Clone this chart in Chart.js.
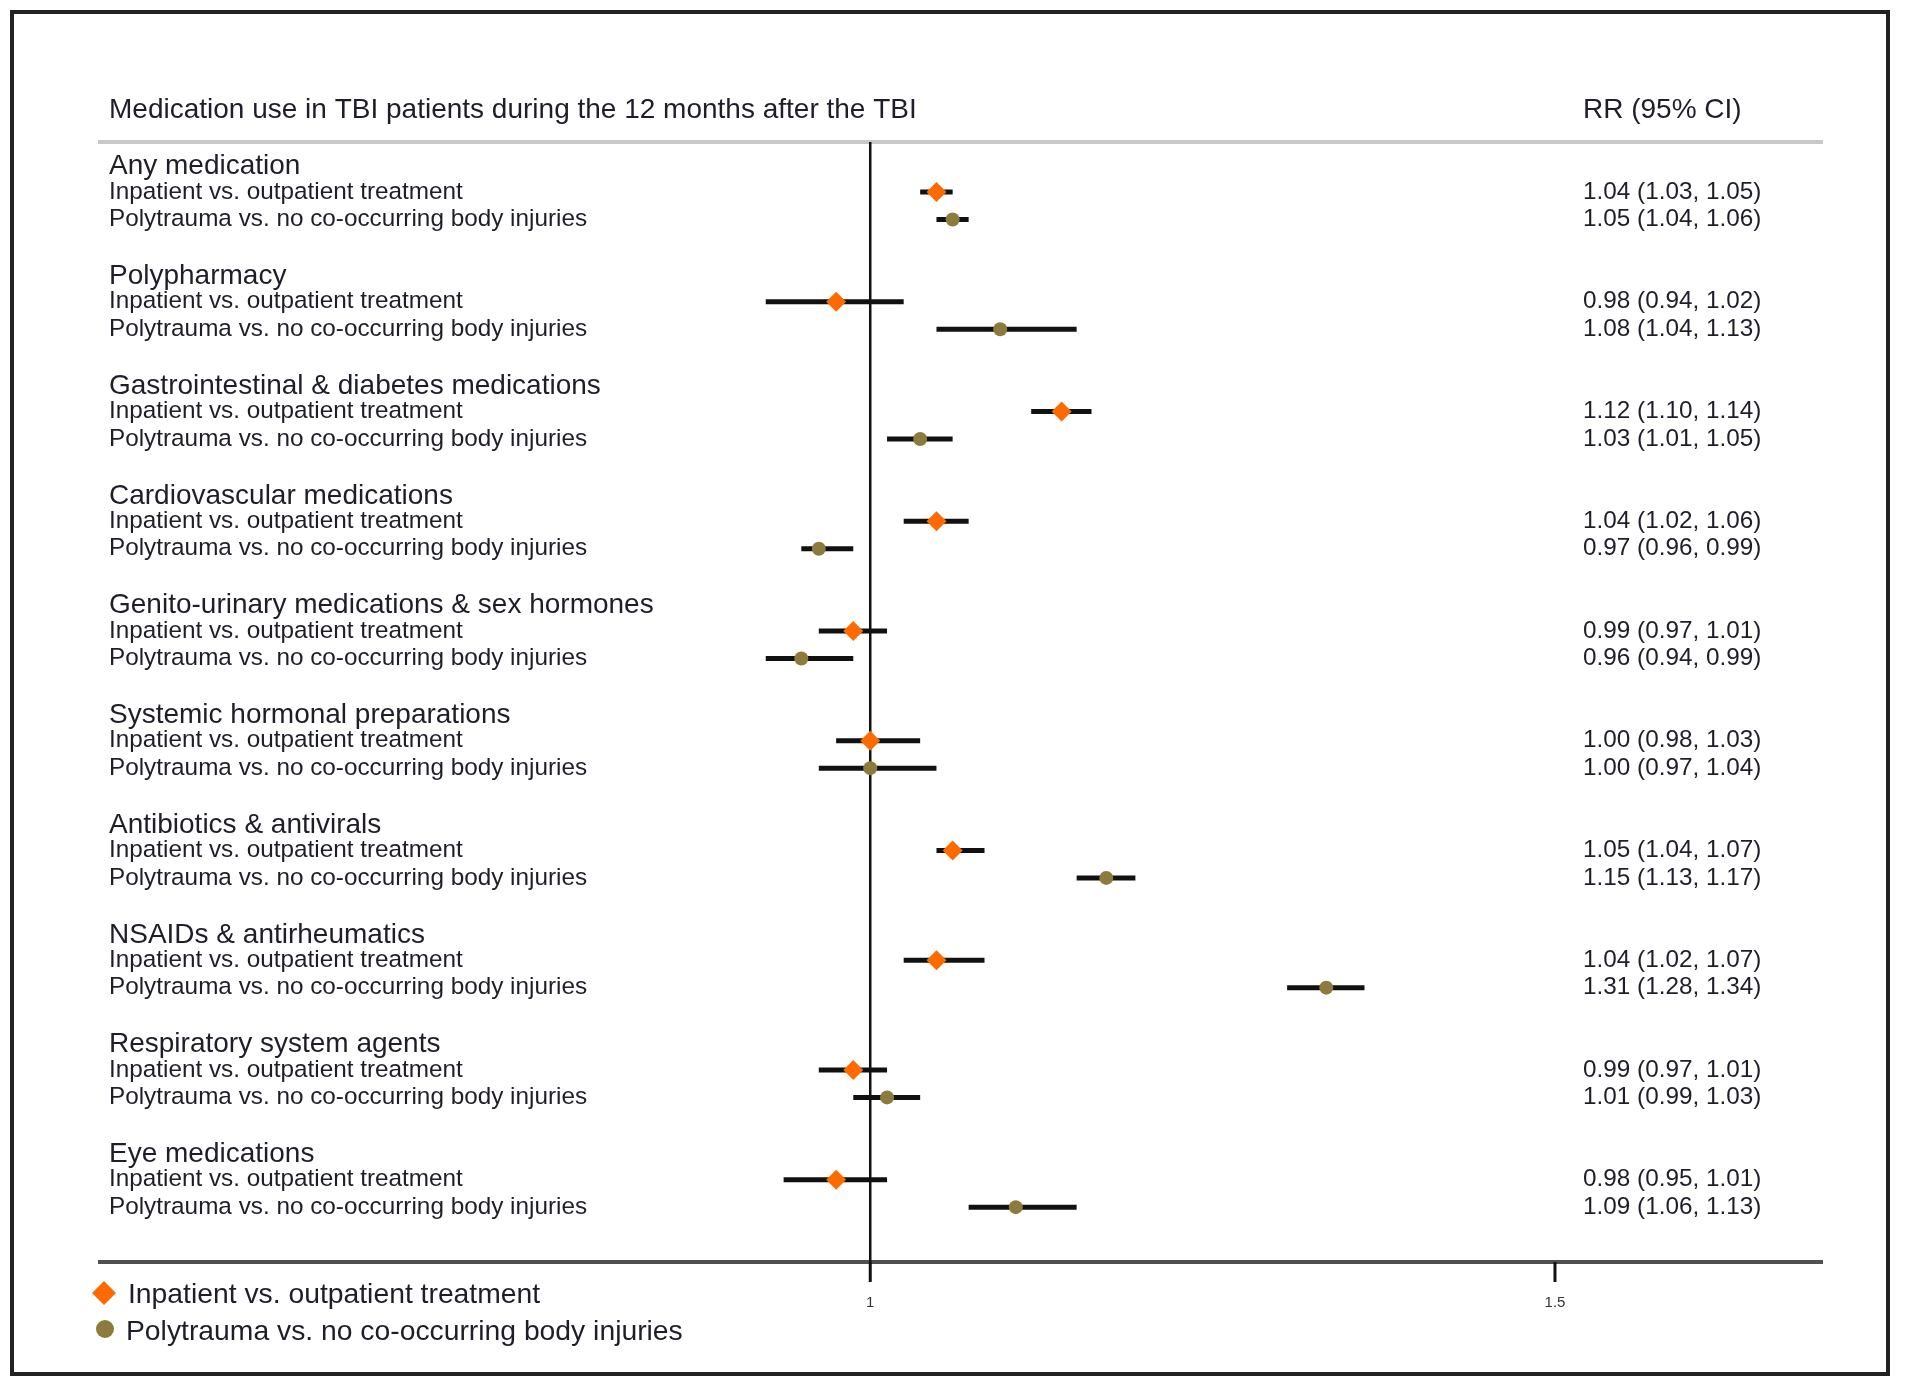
<!DOCTYPE html>
<html lang="en">
<head>
    <meta charset="UTF-8">
    <title>Medication use in TBI patients</title>
    <script src="https://cdn.jsdelivr.net/npm/chart.js"></script>
    <style>
        html, body { margin: 0; padding: 0; background: #fff; }
        canvas { display: block; }
    </style>
</head>
<body>
    <canvas id="forest" width="1908" height="1384"></canvas>
    <script>
        // medication groups, top to bottom
        const groups = [
            'Any medication',
            'Polypharmacy',
            'Gastrointestinal & diabetes medications',
            'Cardiovascular medications',
            'Genito-urinary medications & sex hormones',
            'Systemic hormonal preparations',
            'Antibiotics & antivirals',
            'NSAIDs & antirheumatics',
            'Respiratory system agents',
            'Eye medications'
        ];
        const comparisons = ['Inpatient vs. outpatient treatment', 'Polytrauma vs. no co-occurring body injuries'];

        // inpatient vs. outpatient
        const inpRR = [1.04, 0.98, 1.12, 1.04, 0.99, 1.00, 1.05, 1.04, 0.99, 0.98];
        const inpLo = [1.03, 0.94, 1.10, 1.02, 0.97, 0.98, 1.04, 1.02, 0.97, 0.95];
        const inpHi = [1.05, 1.02, 1.14, 1.06, 1.01, 1.03, 1.07, 1.07, 1.01, 1.01];

        // polytrauma vs. no co-occurring body injuries
        const polyRR = [1.05, 1.08, 1.03, 0.97, 0.96, 1.00, 1.15, 1.31, 1.01, 1.09];
        const polyLo = [1.04, 1.04, 1.01, 0.96, 0.94, 0.97, 1.13, 1.28, 0.99, 1.06];
        const polyHi = [1.06, 1.13, 1.05, 0.99, 0.99, 1.04, 1.17, 1.34, 1.03, 1.13];

        const xTicks = [1, 1.5];

        const ORANGE = '#ff6a00';
        const OLIVE = '#8c7b3c';
        const TEXT = '#1e1e28';
        const FONT = '"Liberation Sans", Arial, sans-serif';

        // each group uses 4 rows: heading, inpatient, polytrauma, gap
        const inpSlot = i => i * 4 + 1;
        const polySlot = i => i * 4 + 2;
        const fmt = (rr, lo, hi) => `${rr.toFixed(2)} (${lo.toFixed(2)}, ${hi.toFixed(2)})`;

        const ciSets = [];
        groups.forEach((g, i) => {
            ciSets.push({
                type: 'line',
                data: [{ x: inpLo[i], y: inpSlot(i) }, { x: inpHi[i], y: inpSlot(i) }],
                borderColor: '#111', borderWidth: 5, pointRadius: 0, order: 2
            });
            ciSets.push({
                type: 'line',
                data: [{ x: polyLo[i], y: polySlot(i) }, { x: polyHi[i], y: polySlot(i) }],
                borderColor: '#111', borderWidth: 5, pointRadius: 0, order: 2
            });
        });

        const frame = {
            id: 'frame',
            beforeDatasetsDraw(chart) {
                const { ctx, chartArea: a, scales: { x } } = chart;
                ctx.save();
                // outer box
                ctx.strokeStyle = '#222';
                ctx.lineWidth = 4;
                ctx.strokeRect(12, 12, 1876, 1362);
                // header rule
                ctx.strokeStyle = '#c8c8c8';
                ctx.lineWidth = 4;
                ctx.beginPath();
                ctx.moveTo(a.left, a.top);
                ctx.lineTo(a.right, a.top);
                ctx.stroke();
                // axis line
                ctx.strokeStyle = '#505050';
                ctx.beginPath();
                ctx.moveTo(a.left, a.bottom);
                ctx.lineTo(a.right, a.bottom);
                ctx.stroke();
                // null line at RR = 1
                const x1 = x.getPixelForValue(1);
                ctx.strokeStyle = '#111';
                ctx.lineWidth = 2.5;
                ctx.beginPath();
                ctx.moveTo(x1, a.top);
                ctx.lineTo(x1, a.bottom);
                ctx.stroke();
                // ticks
                ctx.lineWidth = 3;
                ctx.fillStyle = '#333';
                ctx.font = `15px ${FONT}`;
                ctx.textAlign = 'center';
                ctx.textBaseline = 'middle';
                xTicks.forEach(t => {
                    const px = x.getPixelForValue(t);
                    ctx.beginPath();
                    ctx.moveTo(px, a.bottom);
                    ctx.lineTo(px, a.bottom + 20);
                    ctx.stroke();
                    ctx.fillText(String(t), px, a.bottom + 41);
                });
                ctx.restore();
            },
            afterDraw(chart) {
                const { ctx, scales: { y } } = chart;
                ctx.save();
                ctx.fillStyle = TEXT;
                ctx.textBaseline = 'middle';
                ctx.textAlign = 'left';
                ctx.font = `28px ${FONT}`;
                ctx.fillText('Medication use in TBI patients during the 12 months after the TBI', 109, 110);
                ctx.fillText('RR (95% CI)', 1583, 110);

                groups.forEach((g, i) => {
                    ctx.font = `28px ${FONT}`;
                    ctx.fillText(g, 109, y.getPixelForValue(i * 4) + 2);
                    ctx.font = `24.3px ${FONT}`;
                    ctx.fillText(comparisons[0], 109, y.getPixelForValue(inpSlot(i)));
                    ctx.fillText(comparisons[1], 109, y.getPixelForValue(polySlot(i)));
                    ctx.fillText(fmt(inpRR[i], inpLo[i], inpHi[i]), 1583, y.getPixelForValue(inpSlot(i)));
                    ctx.fillText(fmt(polyRR[i], polyLo[i], polyHi[i]), 1583, y.getPixelForValue(polySlot(i)));
                });

                // legend
                ctx.font = `28.3px ${FONT}`;
                ctx.fillText(comparisons[0], 128, 1295);
                ctx.fillText(comparisons[1], 126, 1332);
                ctx.fillStyle = ORANGE;
                ctx.beginPath();
                ctx.moveTo(104, 1281);
                ctx.lineTo(116, 1293);
                ctx.lineTo(104, 1305);
                ctx.lineTo(92, 1293);
                ctx.closePath();
                ctx.fill();
                ctx.fillStyle = OLIVE;
                ctx.beginPath();
                ctx.arc(105, 1329, 9, 0, Math.PI * 2);
                ctx.fill();
                ctx.restore();
            }
        };

        new Chart(document.getElementById('forest'), {
            type: 'scatter',
            data: {
                datasets: [
                    ...ciSets,
                    {
                        label: comparisons[0],
                        data: inpRR.map((v, i) => ({ x: v, y: inpSlot(i) })),
                        pointStyle: 'rectRot', pointRadius: 10,
                        backgroundColor: ORANGE, borderColor: ORANGE, borderWidth: 0, order: 1
                    },
                    {
                        label: comparisons[1],
                        data: polyRR.map((v, i) => ({ x: v, y: polySlot(i) })),
                        pointStyle: 'circle', pointRadius: 7,
                        backgroundColor: OLIVE, borderColor: OLIVE, borderWidth: 0, order: 1
                    }
                ]
            },
            options: {
                responsive: false,
                animation: false,
                devicePixelRatio: 1,
                layout: { padding: { left: 98, top: 142, right: 85, bottom: 122 } },
                scales: {
                    x: { type: 'logarithmic', bounds: 'data', min: 0.633, max: 1.758, display: false },
                    y: { type: 'linear', min: -0.824, max: 40, reverse: true, display: false }
                },
                plugins: {
                    legend: { display: false },
                    tooltip: { enabled: false }
                }
            },
            plugins: [frame]
        });
    </script>
</body>
</html>
